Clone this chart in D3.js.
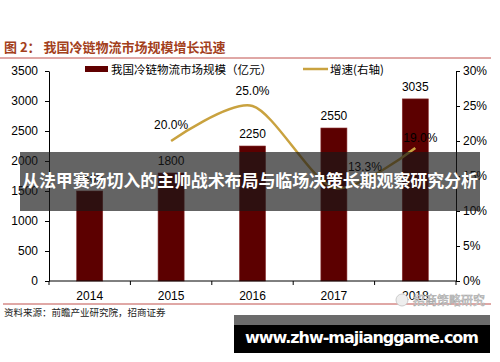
<!DOCTYPE html>
<html>
<head>
  <meta charset="utf-8">
  <title>冷链物流市场规模</title>
  <script src="https://cdn.jsdelivr.net/npm/d3@7"></script>
  <style>
    body { margin: 0; background: #fff; }
    svg { display: block; font-family: "Liberation Sans", Arial, sans-serif; }
    .cn { font-family: "Noto Sans CJK SC", sans-serif; }
  </style>
</head>
<body>
<svg id="chart" width="500" height="362"></svg>
<script>
  // data
  var years = ['2014', '2015', '2016', '2017', '2018'];
  var scale = [1500, 1800, 2250, 2550, 3035];
  var growthYears = ['2015', '2016', '2017', '2018'];
  var growth = [20.0, 25.0, 13.3, 19.0];
  var leftTicks = [0, 500, 1000, 1500, 2000, 2500, 3000, 3500];
  var rightTicks = [0, 5, 10, 15, 20, 25, 30];
  // where each growth label sits relative to its point
  var labelShift = [[0, -12], [0, -11], [31, -17], [5, -6]];

  var svg = d3.select('#chart');
  var m = {left: 49, right: 456, top: 71, bottom: 281};

  var x = d3.scaleBand().domain(years).range([m.left, m.right]).paddingInner(0.68).paddingOuter(0.34);
  var xc = function(d) { return x(d) + x.bandwidth() / 2; };
  var yL = d3.scaleLinear().domain([0, 3500]).range([m.bottom, m.top]);
  var yR = d3.scaleLinear().domain([0, 30]).range([m.bottom, m.top]);

  // title
  svg.append('text').attr('class', 'cn')
    .attr('x', 4).attr('y', 52)
    .style('font-size', '13px').style('font-weight', 'bold').style('fill', '#a3401c')
    .text('图 2：  我国冷链物流市场规模增长迅速');
  svg.append('line').attr('x1', 0).attr('x2', 491).attr('y1', 58).attr('y2', 58)
    .style('stroke', '#c0504d').style('stroke-width', 1);

  // legend
  svg.append('rect').attr('x', 85).attr('y', 66).attr('width', 23).attr('height', 6).style('fill', '#600000');
  svg.append('text').attr('class', 'cn').attr('x', 111).attr('y', 73.5)
    .style('font-size', '11.5px').text('我国冷链物流市场规模（亿元）');
  svg.append('line').attr('x1', 303).attr('x2', 328).attr('y1', 69).attr('y2', 69)
    .style('stroke', '#c9a23f').style('stroke-width', 2.5);
  svg.append('text').attr('class', 'cn').attr('x', 330).attr('y', 73.5)
    .style('font-size', '11.5px').text('增速(右轴)');

  // bars
  svg.selectAll('rect.bar').data(scale).enter().append('rect').attr('class', 'bar')
    .attr('x', function(d, i) { return x(years[i]); })
    .attr('y', function(d) { return yL(d); })
    .attr('width', x.bandwidth())
    .attr('height', function(d) { return m.bottom - yL(d); })
    .style('fill', '#5c0000').style('stroke', '#8a3030').style('stroke-width', 0.6);

  svg.selectAll('text.barLabel').data(scale).enter().append('text').attr('class', 'barLabel')
    .attr('x', function(d, i) { return xc(years[i]); })
    .attr('y', function(d) { return yL(d) - 8; })
    .attr('text-anchor', 'middle').style('font-size', '12px')
    .text(function(d) { return d; });

  // growth line
  var line = d3.line()
    .x(function(d, i) { return xc(growthYears[i]); })
    .y(function(d) { return yR(d); })
    .curve(d3.curveCardinal.tension(0.2));
  svg.append('path').datum(growth).attr('d', line)
    .style('fill', 'none').style('stroke', '#c9a23f').style('stroke-width', 2.5);

  svg.selectAll('text.rateLabel').data(growth).enter().append('text').attr('class', 'rateLabel')
    .attr('x', function(d, i) { return xc(growthYears[i]) + labelShift[i][0]; })
    .attr('y', function(d, i) { return yR(d) + labelShift[i][1]; })
    .attr('text-anchor', 'middle').style('font-size', '12px')
    .text(function(d) { return d.toFixed(1) + '%'; });

  // axes
  var axL = svg.append('g').attr('transform', 'translate(' + m.left + ',0)')
    .call(d3.axisLeft(yL).tickValues(leftTicks).tickSize(4).tickSizeOuter(0).tickPadding(7)
      .tickFormat(d3.format('d')));
  var axR = svg.append('g').attr('transform', 'translate(' + m.right + ',0)')
    .call(d3.axisRight(yR).tickValues(rightTicks).tickSize(4).tickSizeOuter(0).tickPadding(3)
      .tickFormat(function(d) { return d + '%'; }));
  var axX = svg.append('g').attr('transform', 'translate(0,' + m.bottom + ')')
    .call(d3.axisBottom(x).tickSize(0).tickPadding(10));
  // category boundary ticks
  axX.selectAll('line.sep').data(d3.range(years.length + 1)).enter().append('line').attr('class', 'sep')
    .attr('x1', function(i) { return m.left + i * x.step(); })
    .attr('x2', function(i) { return m.left + i * x.step(); })
    .attr('y1', 0).attr('y2', 4).style('stroke', '#000');
  [axL, axR, axX].forEach(function(g) {
    g.selectAll('text').style('font-size', '12px').style('font-family', '"Liberation Sans", Arial, sans-serif').style('fill', '#000');
    g.selectAll('path, line').style('stroke', '#000');
  });
  axX.select('path.domain').attr('d', 'M' + m.left + ',0H' + m.right);

  // source footer
  svg.append('line').attr('x1', 3).attr('x2', 491).attr('y1', 304).attr('y2', 304)
    .style('stroke', '#c0504d').style('stroke-width', 1);
  svg.append('text').attr('class', 'cn').attr('x', 4).attr('y', 316)
    .style('font-size', '9.5px').style('fill', '#222').text('资料来源：前瞻产业研究院，招商证券');

  // watermark
  svg.append('text').attr('class', 'cn').attr('x', 413).attr('y', 305)
    .style('font-size', '12px').style('fill', '#fff').style('stroke', '#aaa').style('stroke-width', 0.6)
    .text('招商策略研究');
  svg.append('circle').attr('cx', 402).attr('cy', 300).attr('r', 6)
    .style('fill', '#eee').style('stroke', '#ccc');

  // overlay banner
  svg.append('rect').attr('x', 20).attr('y', 152).attr('width', 460).attr('height', 59)
    .style('fill', 'rgba(24,24,24,0.67)');
  svg.append('text').attr('class', 'cn').attr('x', 250).attr('y', 187)
    .attr('text-anchor', 'middle').attr('textLength', 456)
    .style('font-size', '17px').style('font-weight', 'bold').style('fill', '#fff')
    .text('从法甲赛场切入的主帅战术布局与临场决策长期观察研究分析');

  // bottom url banner
  svg.append('rect').attr('x', 234).attr('y', 315).attr('width', 256).attr('height', 10).style('fill', '#6b6b6b');
  svg.append('rect').attr('x', 234).attr('y', 325).attr('width', 256).attr('height', 28).style('fill', '#000');
  svg.append('text').attr('x', 245).attr('y', 343)
    .attr('textLength', 234)
    .style('font-family', '"DejaVu Sans", sans-serif')
    .style('font-size', '16px').style('font-weight', 'bold').style('fill', '#fff')
    .text('www.zhw-majianggame.com');
</script>
</body>
</html>
